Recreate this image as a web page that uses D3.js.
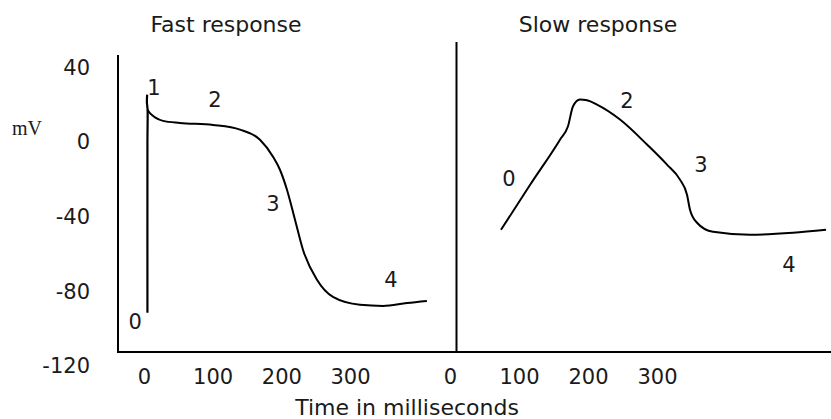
<!DOCTYPE html>
<html><head><meta charset="utf-8">
<script src="https://cdn.jsdelivr.net/npm/d3@7"></script>
<style>
html,body{margin:0;padding:0;background:#fff;}
svg text{font-family:"DejaVu Sans",sans-serif;fill:#1a1a1a;}
</style></head>
<body><svg id="chart" width="831" height="419"></svg>
<script>
// ---- data ----
const yTicks = [40, 0, -40, -80, -120];
const xTicks = [0, 100, 200, 300];
const panelTitles = ["Fast response", "Slow response"];
const xTitle = "Time in milliseconds";
const yTitle = "mV";
// fast response: upstroke (phase 0 + spike) and repolarization
const fastUpTime = [5, 5, 5.2, 4.2, 4.6];
const fastUpMV = [-91.5, 0, 17.4, 21.5, 25.5];
const fastTime = [5.2, 8, 12, 16, 27.7, 52.4, 100.5, 139.8, 168.9, 187.9, 198, 208.2, 219.9, 231.5, 251.9, 275.2, 314.5, 348, 383, 412];
const fastMV = [17.4, 15.8, 14.4, 13.3, 11.4, 10.3, 9.2, 6.7, 1.3, -7.8, -14.8, -25.5, -41.6, -57.7, -73.8, -83.0, -87.2, -87.8, -86.2, -85.1];
// slow response
const slowTime = [73.9, 115.9, 159.4, 171, 178.3, 188.4, 198.6, 213, 246.4, 285.5, 314.5, 333.3, 343.5, 347.8, 358, 381.2, 434.8, 497.1, 545];
const slowMV = [-47.0, -23.0, 1.3, 8.5, 19.2, 22.8, 22.4, 20.1, 12.1, -1.3, -12.1, -20.1, -28.2, -36.2, -43.2, -48.1, -49.7, -48.6, -47.0];
// phase labels (data units)
const fastPhase = ["0", "1", "2", "3", "4"];
const fastPhaseT = [-13, 14.6, 103.4, 187.9, 359.7];
const fastPhaseV = [-96.4, 29, 22.6, -33.2, -73.9];
const slowPhase = ["0", "2", "3", "4"];
const slowPhaseT = [85.5, 256.5, 363.8, 491.3];
const slowPhaseV = [-19.8, 22, -12.3, -65.9];

// ---- layout ----
const svg = d3.select("#chart");
const y = d3.scaleLinear().domain([-120, 40]).range([366, 67.5]);
const xFast = d3.scaleLinear().domain([0, 300]).range([144, 350]);
const xSlow = d3.scaleLinear().domain([0, 300]).range([450, 657]);
const frameLeft = 118, frameBottom = 352, frameTop = 55, divX = 456.5, divTop = 42;
const FS = 21, TS = 22;

// frame
svg.append("line").attr("x1", frameLeft).attr("x2", frameLeft).attr("y1", frameTop).attr("y2", frameBottom + 1)
  .attr("stroke", "#000").attr("stroke-width", 2);
svg.append("line").attr("x1", frameLeft).attr("x2", 831).attr("y1", frameBottom).attr("y2", frameBottom)
  .attr("stroke", "#000").attr("stroke-width", 2);
svg.append("line").attr("x1", divX).attr("x2", divX).attr("y1", divTop).attr("y2", frameBottom)
  .attr("stroke", "#000").attr("stroke-width", 2);

// y axis labels
const yAx = svg.append("g").attr("transform", "translate(90,0)")
  .call(d3.axisLeft(y).tickValues(yTicks).tickSize(0).tickPadding(0).tickFormat(d => String(d)));
yAx.select(".domain").remove();
yAx.selectAll("text").attr("font-size", FS).attr("font-family", "DejaVu Sans").attr("fill", "#1a1a1a");

// x axis labels
[xFast, xSlow].forEach(sc => {
  const g = svg.append("g").attr("transform", "translate(0,369)")
    .call(d3.axisBottom(sc).tickValues(xTicks).tickSize(0).tickPadding(0).tickFormat(d => String(d)));
  g.select(".domain").remove();
  g.selectAll("text").attr("font-size", FS).attr("font-family", "DejaVu Sans").attr("fill", "#1a1a1a");
});

// titles
svg.append("text").attr("x", 226).attr("y", 32).attr("text-anchor", "middle").attr("font-size", TS).text(panelTitles[0]);
svg.append("text").attr("x", 598).attr("y", 32).attr("text-anchor", "middle").attr("font-size", TS).text(panelTitles[1]);
svg.append("text").attr("x", 407).attr("y", 415).attr("text-anchor", "middle").attr("font-size", TS).text(xTitle);
svg.append("text").attr("x", 27).attr("y", 135).attr("text-anchor", "middle").attr("font-size", 20)
  .style("font-family", "'Liberation Serif', serif").text(yTitle);

// curves
const lineUp = d3.line().x(d => xFast(d[0])).y(d => y(d[1])).curve(d3.curveCatmullRom.alpha(0.5));
const lineFast = d3.line().x(d => xFast(d[0])).y(d => y(d[1])).curve(d3.curveMonotoneX);
const lineSlow = d3.line().x(d => xSlow(d[0])).y(d => y(d[1])).curve(d3.curveMonotoneX);

svg.append("path").attr("d", lineUp(d3.zip(fastUpTime, fastUpMV)))
  .attr("fill", "none").attr("stroke", "#000").attr("stroke-width", 2.2);
svg.append("path").attr("d", lineFast(d3.zip(fastTime, fastMV)))
  .attr("fill", "none").attr("stroke", "#000").attr("stroke-width", 2);
svg.append("path").attr("d", lineSlow(d3.zip(slowTime, slowMV)))
  .attr("fill", "none").attr("stroke", "#000").attr("stroke-width", 2);

// phase labels
svg.append("g").selectAll("text").data(fastPhase).join("text")
  .attr("x", (d, i) => xFast(fastPhaseT[i])).attr("y", (d, i) => y(fastPhaseV[i]))
  .attr("text-anchor", "middle").attr("dominant-baseline", "central").attr("font-size", FS).text(d => d);
svg.append("g").selectAll("text").data(slowPhase).join("text")
  .attr("x", (d, i) => xSlow(slowPhaseT[i])).attr("y", (d, i) => y(slowPhaseV[i]))
  .attr("text-anchor", "middle").attr("dominant-baseline", "central").attr("font-size", FS).text(d => d);
</script></body></html>
